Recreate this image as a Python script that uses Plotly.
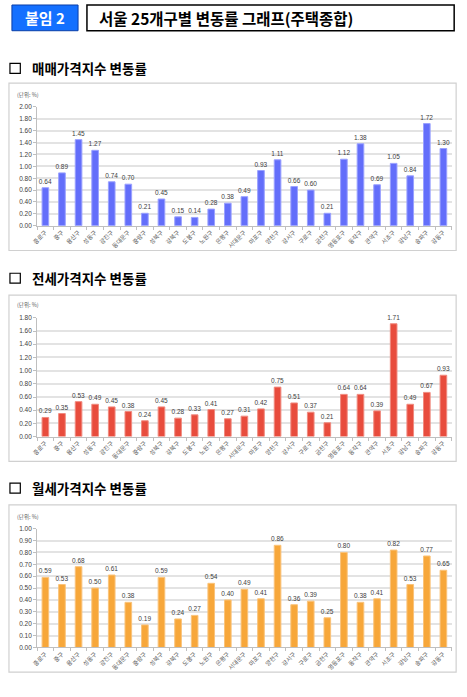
import plotly.graph_objects as go

W, H = 467, 697

districts = ["종로구", "중구", "용산구", "성동구", "광진구", "동대문구", "중랑구", "성북구",
             "강북구", "도봉구", "노원구", "은평구", "서대문구", "마포구", "양천구", "강서구",
             "구로구", "금천구", "영등포구", "동작구", "관악구", "서초구", "강남구", "송파구", "강동구"]

sale = [0.64, 0.89, 1.45, 1.27, 0.74, 0.70, 0.21, 0.45, 0.15, 0.14, 0.28, 0.38, 0.49,
        0.93, 1.11, 0.66, 0.60, 0.21, 1.12, 1.38, 0.69, 1.05, 0.84, 1.72, 1.30]
jeonse = [0.29, 0.35, 0.53, 0.49, 0.45, 0.38, 0.24, 0.45, 0.28, 0.33, 0.41, 0.27, 0.31,
          0.42, 0.75, 0.51, 0.37, 0.21, 0.64, 0.64, 0.39, 1.71, 0.49, 0.67, 0.93]
monthly = [0.59, 0.53, 0.68, 0.50, 0.61, 0.38, 0.19, 0.59, 0.24, 0.27, 0.54, 0.40, 0.49,
           0.41, 0.86, 0.36, 0.39, 0.25, 0.80, 0.38, 0.41, 0.82, 0.53, 0.77, 0.65]

headings = ["매매가격지수 변동률", "전세가격지수 변동률", "월세가격지수 변동률"]
y_max = [2.0, 1.8, 1.0]
y_step = [0.2, 0.2, 0.1]

DX, DY = -3, -3  # small nudge so the page lines up with the reference


def px_y(y):
    return 1 - (y + DY) / H


def px_x(x):
    return (x + DX) / W


# layout in pixels: plot top/bottom, frame top/bottom, heading and unit label rows
panels = [
    dict(top=107, bot=227, ftop=83, fbot=252, head=68, unit=95),
    dict(top=320, bot=440, ftop=297, fbot=465, head=280, unit=307),
    dict(top=533, bot=653, ftop=509, fbot=678, head=492, unit=521),
]
series = [sale, jeonse, monthly]
colors = ["#636EFA", "#E84C3D", "#F7A73A"]
edges = ["#9AA1FF", "#F08A7F", "#FAC37A"]

fig = go.Figure()
shapes = []
annotations = []

for i, (p, vals) in enumerate(zip(panels, series)):
    n = "" if i == 0 else str(i + 1)
    fig.add_trace(go.Bar(
        x=districts, y=vals, xaxis="x" + n, yaxis="y" + n,
        marker=dict(color=colors[i], line=dict(color=edges[i], width=1)),
        text=[f"{v:.2f}" for v in vals], textposition="outside",
        constraintext="none",
        textfont=dict(size=6.5, color="#404040", family="Liberation Sans"),
        cliponaxis=False, showlegend=False, hoverinfo="skip",
    ))
    fig.layout["xaxis" + n] = dict(
        domain=[px_x(34.5), px_x(454.5)], anchor="y" + n,
        tickangle=-45, tickfont=dict(size=6, color="#595959", family="Noto Sans CJK KR"),
        showline=True, linecolor="#BFBFBF", linewidth=1,
        ticks="outside", ticklen=3, tickcolor="#BFBFBF", tickson="boundaries",
        showgrid=False,
    )
    fig.layout["yaxis" + n] = dict(
        domain=[px_y(p["bot"]), px_y(p["top"])], anchor="x" + n,
        range=[0, y_max[i]], dtick=y_step[i], tick0=0, tickformat=".2f",
        tickfont=dict(size=6.5, color="#404040", family="Liberation Sans"),
        showline=True, linecolor="#BFBFBF", linewidth=1,
        ticks="outside", ticklen=3, tickcolor="#BFBFBF",
        showgrid=True, gridcolor="#E3E3E3", gridwidth=1.5, zeroline=False,
    )
    # frame around chart
    shapes.append(dict(type="rect", xref="paper", yref="paper",
                       x0=px_x(6), x1=px_x(459), y0=px_y(p["fbot"]), y1=px_y(p["ftop"]),
                       line=dict(color="#D0D0D0", width=1.2), fillcolor="rgba(0,0,0,0)",
                       layer="below"))
    # checkbox + heading
    shapes.append(dict(type="rect", xref="paper", yref="paper",
                       x0=px_x(7), x1=px_x(17.5), y0=px_y(p["head"] + 5), y1=px_y(p["head"] - 5),
                       line=dict(color="black", width=1.2), fillcolor="white"))
    annotations.append(dict(text="<b>" + headings[i] + "</b>", xref="paper", yref="paper",
                            x=px_x(27), y=px_y(p["head"]), xanchor="left", yanchor="middle",
                            showarrow=False,
                            font=dict(size=13.5, color="black", family="Noto Sans CJK KR")))
    annotations.append(dict(text="(단위: %)", xref="paper", yref="paper",
                            x=px_x(12), y=px_y(p["unit"]), xanchor="left", yanchor="middle",
                            showarrow=False,
                            font=dict(size=5.5, color="#595959", family="Noto Sans CJK KR")))

# header boxes
shapes.append(dict(type="rect", xref="paper", yref="paper",
                   x0=px_x(9), x1=px_x(76), y0=px_y(30), y1=px_y(4),
                   line=dict(color="#0A3FA8", width=1), fillcolor="#1470FF"))
shapes.append(dict(type="rect", xref="paper", yref="paper",
                   x0=px_x(85), x1=px_x(457), y0=px_y(30), y1=px_y(4),
                   line=dict(color="black", width=1.5), fillcolor="white"))
annotations.append(dict(text="<b>붙임 2</b>", xref="paper", yref="paper",
                        x=px_x(42.5), y=px_y(17), xanchor="center", yanchor="middle",
                        showarrow=False,
                        font=dict(size=15, color="white", family="Noto Sans CJK KR")))
annotations.append(dict(text="<b>서울 25개구별 변동률 그래프(주택종합)</b>", xref="paper", yref="paper",
                        x=px_x(95), y=px_y(17), xanchor="left", yanchor="middle",
                        showarrow=False,
                        font=dict(size=15.5, color="black", family="Noto Sans CJK KR")))

fig.update_layout(
    width=W, height=H, margin=dict(l=0, r=0, t=0, b=0),
    paper_bgcolor="white", plot_bgcolor="white",
    bargap=0.6, shapes=shapes, annotations=annotations,
)

# pin the figure to the window's top-left corner (no page margin, no scrollbars)
pin = ("document.body.style.margin='0';"
       "document.documentElement.style.overflow='hidden';"
       "var d=document.getElementById('{plot_id}');"
       "d.style.position='fixed';d.style.left='0px';d.style.top='0px';")
fig.write_html("out.html", config={"displayModeBar": False}, post_script=pin)
